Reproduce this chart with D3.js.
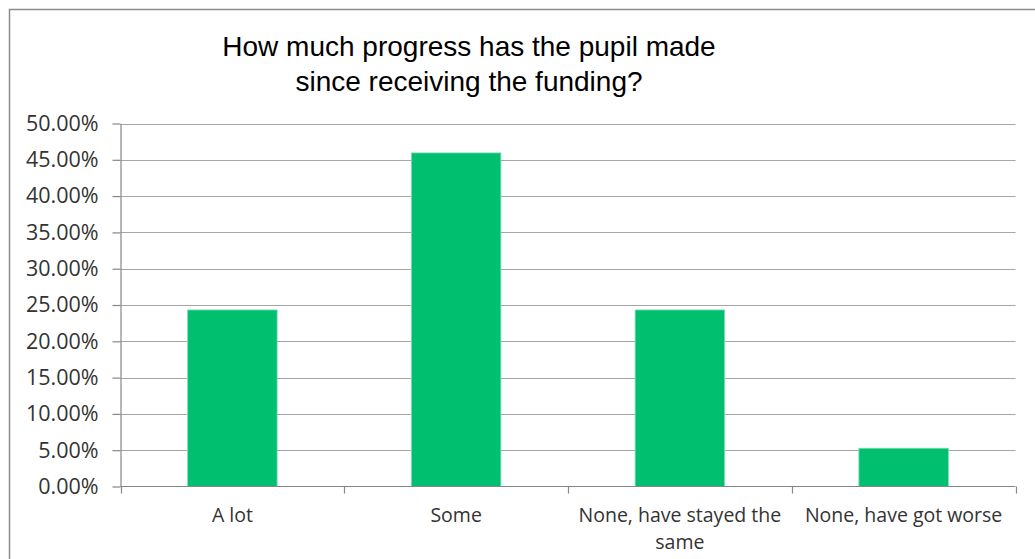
<!DOCTYPE html>
<html>
<head>
<meta charset="utf-8">
<script src="https://cdn.jsdelivr.net/npm/d3@7"></script>
<style>
  html, body { margin: 0; padding: 0; background: #fff; }
  svg { display: block; }
</style>
</head>
<body>
<svg id="chart" width="1035" height="559"></svg>
<script>
const titleLines = ["How much progress has the pupil made", "since receiving the funding?"];
const categories = ["A lot", "Some", "None, have stayed the same", "None, have got worse"];
const categoryLines = [["A lot"], ["Some"], ["None, have stayed the", "same"], ["None, have got worse"]];
const values = [0.2432, 0.4595, 0.2432, 0.0527];
const yTicks = [0, 0.05, 0.10, 0.15, 0.20, 0.25, 0.30, 0.35, 0.40, 0.45, 0.50];

const svg = d3.select("#chart");
const W = 1035, H = 559;
const m = { left: 120.5, right: 1015.5, top: 123.5, bottom: 486.5 };

// outer border
svg.append("rect")
  .attr("x", 9.5).attr("y", 9.5)
  .attr("width", W + 20).attr("height", H + 20)
  .attr("fill", "#fff").attr("stroke", "#8c8c8c").attr("stroke-width", 1.5);

// title
svg.append("g").selectAll("text").data(titleLines).join("text")
  .attr("x", 469).attr("y", (d, i) => 56 + i * 35)
  .attr("text-anchor", "middle")
  .attr("font-family", "'Liberation Sans', Arial, sans-serif")
  .attr("font-size", 28)
  .attr("fill", "#000")
  .text(d => d);

const x = d3.scaleBand().domain(categories).range([m.left, m.right]).paddingInner(0.6).paddingOuter(0.3);
const y = d3.scaleLinear().domain([0, 0.5]).range([m.bottom, m.top]);

// gridlines
svg.append("g").selectAll("line").data(yTicks.filter(t => t > 0)).join("line")
  .attr("x1", m.left).attr("x2", m.right)
  .attr("y1", d => Math.round(y(d)) + 0.5).attr("y2", d => Math.round(y(d)) + 0.5)
  .attr("stroke", "#a6a6a6").attr("stroke-width", 1.2);

// bars
svg.append("g").selectAll("rect").data(values).join("rect")
  .attr("x", (d, i) => x(categories[i]))
  .attr("width", x.bandwidth())
  .attr("y", d => y(d))
  .attr("height", d => y(0) - y(d))
  .attr("fill", "#00bf6f")
  .attr("stroke", "#7fdfb5").attr("stroke-width", 0.8);

// y axis
const yAxis = d3.axisLeft(y).tickValues(yTicks).tickFormat(d3.format(".2%")).tickSize(8).tickSizeOuter(0);
const gy = svg.append("g").attr("transform", `translate(${m.left},0)`).call(yAxis);
gy.select(".domain").attr("stroke", "#868686").attr("stroke-width", 1.2);
gy.selectAll(".tick line").attr("stroke", "#868686").attr("stroke-width", 1.2);
gy.selectAll(".tick text")
  .attr("x", -22)
  .attr("font-family", "'Open Sans', sans-serif")
  .attr("font-size", 21.5)
  .attr("fill", "#333");

// x axis line and ticks at band boundaries
const xBounds = categories.map((c, i) => m.left + i * (m.right - m.left) / categories.length).concat([m.right]);
svg.append("line")
  .attr("x1", m.left).attr("x2", m.right)
  .attr("y1", m.bottom).attr("y2", m.bottom)
  .attr("stroke", "#868686").attr("stroke-width", 1.2);
svg.append("g").selectAll("line").data(xBounds).join("line")
  .attr("x1", d => Math.round(d) + 0.5).attr("x2", d => Math.round(d) + 0.5)
  .attr("y1", m.bottom).attr("y2", m.bottom + 7)
  .attr("stroke", "#868686").attr("stroke-width", 1.2);

// category labels
const labels = svg.append("g").selectAll("text").data(categories).join("text")
  .attr("text-anchor", "middle")
  .attr("font-family", "'Open Sans', sans-serif")
  .attr("font-size", 19.5)
  .attr("fill", "#333");
labels.each(function(c, i) {
  const cx = x(c) + x.bandwidth() / 2;
  d3.select(this).selectAll("tspan").data(categoryLines[i]).join("tspan")
    .attr("x", cx).attr("y", (d, j) => 522 + j * 27)
    .text(d => d);
});
</script>
</body>
</html>
